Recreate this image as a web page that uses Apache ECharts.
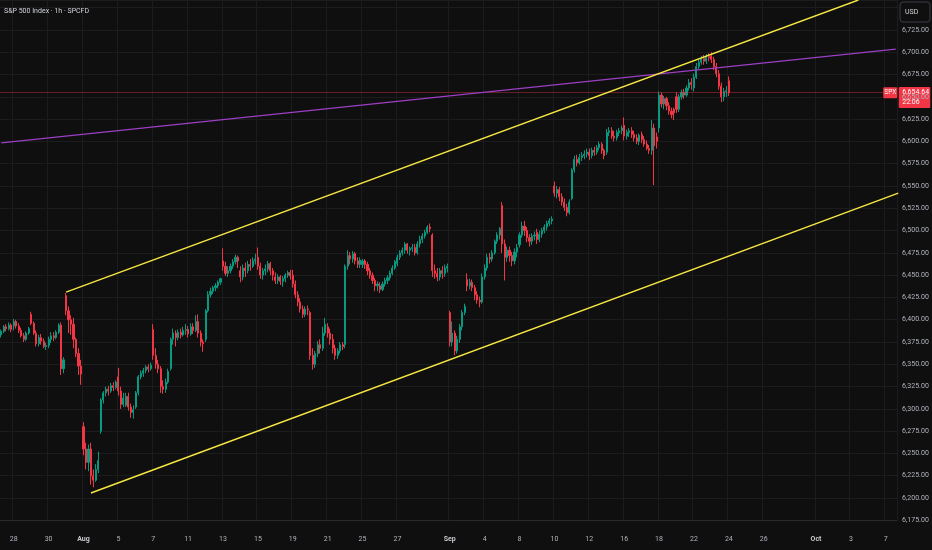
<!DOCTYPE html>
<html><head><meta charset="utf-8">
<script src="https://cdn.jsdelivr.net/npm/echarts@6/dist/echarts.min.js"></script>
<style>html,body{margin:0;padding:0;background:#0f0f0f;}#c{width:932px;height:550px;}</style>
</head><body><div id="c"></div>
<script>
// ---- data ----
const tradingDays = [
  '2025-07-25','2025-07-28','2025-07-29','2025-07-30','2025-07-31','2025-08-01',
  '2025-08-04','2025-08-05','2025-08-06','2025-08-07','2025-08-08',
  '2025-08-11','2025-08-12','2025-08-13','2025-08-14','2025-08-15',
  '2025-08-18','2025-08-19','2025-08-20','2025-08-21','2025-08-22',
  '2025-08-25','2025-08-26','2025-08-27','2025-08-28','2025-08-29',
  '2025-09-02','2025-09-03','2025-09-04','2025-09-05',
  '2025-09-08','2025-09-09','2025-09-10','2025-09-11','2025-09-12',
  '2025-09-15','2025-09-16','2025-09-17','2025-09-18','2025-09-19',
  '2025-09-22','2025-09-23','2025-09-24','2025-09-25','2025-09-26',
  '2025-09-29','2025-09-30','2025-10-01','2025-10-02','2025-10-03',
  '2025-10-06','2025-10-07','2025-10-08'
];
const sessionHours = ['09:30','10:30','11:30','12:30','13:30','14:30','15:30'];
const dayLabels = {
  '07-28':'28','07-30':'30','08-01':'Aug','08-05':'5','08-07':'7','08-11':'11','08-13':'13',
  '08-15':'15','08-19':'19','08-21':'21','08-25':'25','08-27':'27','09-02':'Sep','09-04':'4',
  '09-08':'8','09-10':'10','09-12':'12','09-16':'16','09-18':'18','09-22':'22','09-24':'24',
  '09-26':'26','10-01':'Oct','10-03':'3','10-07':'7'
};
const monthLabels = ['Aug','Sep','Oct'];
// [open, close, low, high] per 1h bar, from Jul 25 11:30
const ohlc = [
  [6383,6387,6380,6389],[6387,6392,6385,6394],[6392,6390,6387,6395],[6390,6394,6388,6397],[6394,6389,6386,6396],
  [6393,6398,6388,6401],[6398,6393,6390,6400],[6393,6388,6385,6396],[6388,6382,6380,6391],[6382,6378,6375,6385],[6378,6385,6376,6387],[6385,6390,6383,6392],
  [6406,6396,6394,6409],[6396,6385,6383,6398],[6385,6373,6370,6388],[6373,6380,6370,6383],[6380,6376,6372,6384],[6376,6370,6368,6379],[6370,6371,6366,6374],
  [6371,6378,6368,6381],[6378,6382,6374,6386],[6382,6380,6376,6386],[6380,6386,6378,6388],[6386,6394,6384,6396],[6394,6345,6338,6397],[6345,6355,6340,6358],
  [6427,6410,6405,6430],[6410,6400,6385,6415],[6400,6395,6383,6405],[6395,6378,6368,6402],[6378,6362,6358,6380],[6362,6348,6338,6368],[6348,6339,6327,6355],
  [6280,6255,6248,6285],[6255,6240,6232,6262],[6240,6255,6230,6260],[6255,6225,6215,6262],[6225,6220,6212,6232],[6220,6232,6218,6238],[6232,6242,6228,6252],
  [6275,6310,6272,6312],[6310,6318,6306,6320],[6318,6322,6314,6325],[6322,6320,6315,6326],[6320,6326,6318,6329],[6326,6324,6320,6330],[6324,6330,6322,6332],
  [6336,6320,6315,6346],[6320,6305,6300,6325],[6305,6312,6302,6318],[6304,6314,6302,6318],[6314,6302,6298,6318],[6302,6296,6290,6306],[6296,6299,6289,6304],
  [6302,6318,6300,6320],[6318,6336,6315,6338],[6336,6340,6333,6343],[6340,6343,6336,6346],[6343,6347,6340,6349],[6347,6345,6341,6350],[6345,6349,6343,6352],
  [6389,6360,6355,6395],[6360,6350,6345,6368],[6350,6345,6340,6355],[6345,6325,6318,6348],[6325,6322,6317,6332],[6322,6330,6318,6334],[6330,6342,6328,6345],
  [6345,6378,6343,6380],[6378,6385,6372,6390],[6385,6380,6370,6388],[6380,6386,6377,6389],[6386,6383,6379,6390],[6383,6388,6381,6392],[6388,6389,6383,6395],
  [6389,6384,6380,6393],[6384,6392,6382,6396],[6392,6388,6384,6396],[6388,6398,6386,6405],[6398,6385,6380,6406],[6385,6375,6370,6388],[6375,6373,6364,6378],
  [6378,6410,6375,6412],[6410,6428,6408,6432],[6428,6432,6425,6436],[6432,6436,6429,6438],[6436,6438,6432,6441],[6438,6442,6435,6444],[6442,6446,6439,6447],
  [6466,6460,6455,6480],[6460,6452,6449,6465],[6452,6455,6448,6460],[6455,6460,6452,6463],[6460,6465,6457,6468],[6465,6470,6462,6473],[6470,6466,6458,6472],
  [6455,6448,6442,6460],[6448,6458,6444,6462],[6458,6455,6448,6464],[6455,6462,6452,6466],[6462,6460,6455,6468],[6460,6466,6458,6470],[6466,6468,6462,6474],
  [6470,6460,6456,6481],[6460,6450,6446,6464],[6450,6455,6445,6458],[6455,6457,6450,6462],[6457,6463,6453,6466],[6463,6455,6450,6465],[6455,6450,6444,6458],
  [6448,6444,6440,6453],[6444,6448,6440,6451],[6448,6443,6439,6450],[6443,6446,6437,6449],[6446,6450,6442,6452],[6450,6453,6447,6455],[6453,6449,6445,6456],
  [6450,6440,6436,6456],[6440,6428,6424,6444],[6428,6420,6415,6432],[6420,6412,6408,6424],[6412,6406,6402,6416],[6406,6412,6403,6415],[6412,6411,6405,6416],
  [6408,6360,6355,6410],[6360,6350,6344,6368],[6350,6362,6346,6365],[6362,6372,6358,6376],[6372,6368,6362,6378],[6368,6385,6365,6392],[6385,6395,6382,6402],
  [6392,6385,6380,6396],[6385,6378,6372,6390],[6378,6368,6362,6384],[6368,6360,6355,6372],[6360,6365,6356,6368],[6365,6372,6362,6375],[6372,6370,6366,6375],
  [6372,6460,6368,6462],[6460,6472,6456,6478],[6472,6468,6462,6476],[6468,6474,6464,6477],[6474,6466,6462,6476],[6466,6462,6458,6470],[6462,6467,6458,6470],
  [6462,6466,6458,6468],[6466,6462,6457,6468],[6462,6455,6450,6465],[6455,6450,6446,6458],[6450,6444,6440,6453],[6444,6438,6432,6447],[6438,6440,6432,6443],
  [6438,6434,6430,6442],[6434,6440,6432,6443],[6440,6444,6437,6447],[6444,6447,6440,6450],[6447,6452,6444,6455],[6452,6458,6450,6461],[6458,6465,6456,6467],
  [6463,6470,6460,6473],[6470,6475,6467,6478],[6475,6478,6472,6481],[6478,6485,6474,6487],[6485,6478,6474,6486],[6478,6480,6472,6482],[6480,6481,6476,6485],
  [6481,6475,6472,6485],[6475,6485,6473,6488],[6485,6490,6481,6494],[6490,6494,6486,6497],[6494,6498,6491,6501],[6498,6504,6496,6506],[6504,6502,6498,6508],
  [6495,6455,6448,6497],[6455,6452,6446,6462],[6452,6448,6443,6458],[6448,6455,6444,6458],[6455,6452,6446,6460],[6452,6458,6448,6462],[6458,6460,6453,6463],
  [6408,6375,6370,6410],[6375,6385,6370,6398],[6385,6365,6360,6388],[6365,6378,6362,6382],[6378,6392,6374,6395],[6392,6408,6388,6411],[6408,6415,6405,6418],
  [6445,6438,6432,6452],[6438,6442,6434,6446],[6442,6436,6432,6445],[6436,6428,6422,6439],[6428,6422,6418,6432],[6422,6420,6414,6426],[6420,6448,6418,6452],
  [6448,6458,6445,6462],[6458,6470,6455,6474],[6470,6468,6463,6475],[6468,6475,6465,6478],[6475,6488,6473,6490],[6488,6495,6485,6498],[6495,6502,6490,6504],
  [6528,6485,6475,6532],[6485,6470,6444,6490],[6470,6478,6465,6482],[6478,6472,6465,6482],[6472,6466,6460,6476],[6466,6476,6462,6480],[6476,6481,6470,6485],
  [6484,6495,6481,6498],[6495,6505,6492,6510],[6505,6500,6494,6511],[6500,6492,6487,6504],[6492,6488,6482,6496],[6488,6494,6484,6497],[6494,6495,6489,6499],
  [6498,6490,6485,6502],[6490,6496,6487,6500],[6496,6500,6492,6503],[6500,6504,6497,6507],[6504,6508,6500,6511],[6508,6511,6505,6514],[6511,6513,6507,6516],
  [6550,6542,6538,6555],[6542,6546,6536,6550],[6546,6538,6533,6549],[6538,6532,6528,6542],[6532,6526,6522,6536],[6526,6520,6516,6530],[6520,6532,6518,6535],
  [6536,6568,6534,6570],[6568,6580,6565,6584],[6580,6576,6572,6585],[6576,6582,6574,6586],[6582,6584,6578,6588],[6584,6586,6580,6590],[6586,6588,6582,6592],
  [6588,6584,6579,6592],[6584,6590,6581,6593],[6590,6588,6584,6594],[6588,6593,6585,6596],[6593,6597,6590,6600],[6597,6590,6586,6599],[6590,6584,6580,6592],
  [6588,6610,6585,6614],[6610,6612,6606,6616],[6612,6606,6603,6616],[6606,6604,6600,6612],[6604,6610,6601,6613],[6610,6612,6606,6615],[6612,6615,6608,6618],
  [6618,6606,6601,6627],[6606,6610,6602,6613],[6610,6612,6605,6615],[6612,6608,6604,6616],[6608,6604,6600,6612],[6604,6600,6597,6608],[6600,6607,6596,6609],
  [6608,6602,6598,6611],[6602,6597,6594,6606],[6597,6592,6590,6601],[6592,6590,6586,6596],[6590,6615,6585,6624],[6615,6595,6551,6620],[6605,6600,6592,6610],
  [6615,6652,6610,6656],[6652,6642,6638,6655],[6642,6648,6636,6651],[6648,6640,6635,6650],[6640,6634,6630,6644],[6634,6630,6626,6638],[6636,6632,6624,6638],
  [6650,6636,6632,6655],[6636,6650,6633,6653],[6650,6655,6647,6658],[6655,6652,6648,6659],[6652,6660,6650,6663],[6660,6666,6657,6670],[6666,6664,6658,6671],
  [6660,6672,6656,6676],[6672,6684,6670,6688],[6684,6689,6681,6692],[6689,6693,6686,6696],[6693,6690,6686,6697],[6690,6695,6687,6698],[6695,6694,6690,6699],
  [6696,6692,6688,6700],[6692,6684,6680,6695],[6684,6676,6672,6688],[6676,6662,6658,6680],[6662,6650,6644,6666],[6650,6656,6645,6660],[6656,6657,6650,6662],
  [6668,6654.64,6651,6673]
];
// drawn lines: [bar index, price]
const upperChannel = [[26, 6431], [343.6, 6758.6]];
const lowerChannel = [[36, 6205.6], [359.5, 6542]];
const purpleLine = [[0, 6598.4], [359, 6703.5]];
const lastPrice = 6654.64;
const countdown = '22:06';
const symbolName = 'SPX';
const currency = 'USD';
const titleText = 'S&P 500 Index · 1h · SPCFD';
const yMin = 6175, yMax = 6758.65, yStep = 25, yLabelTop = 6725;

// ---- layout ----
const firstBarOffset = 2, categoryCount = 360;
const categories = [];
tradingDays.forEach(d => sessionHours.forEach(h => categories.push(d + ' ' + h)));
const xCats = categories.slice(firstBarOffset, firstBarOffset + categoryCount);

function labelOf(v) {
  const parts = v.split(' ');
  if (parts[1] !== '09:30') return null;
  const k = parts[0].slice(5);
  return dayLabels[k] === undefined ? null : dayLabels[k];
}
const FONT = 'Roboto, "Noto Sans", sans-serif';
const TXT = '#b2b5be';
const GRID = '#1c1c1e';

const chart = echarts.init(document.getElementById('c'));
chart.setOption({
  animation: false,
  backgroundColor: '#0f0f0f',
  textStyle: { fontFamily: FONT },
  grid: { left: 0, right: 35, top: 0, bottom: 29.7 },
  xAxis: {
    type: 'category', data: xCats, boundaryGap: true,
    axisLine: { show: true, lineStyle: { color: '#2a2a2e' } },
    axisTick: { show: false },
    axisLabel: {
      interval: (i, v) => labelOf(v) !== null,
      formatter: v => { const l = labelOf(v); if (l === null) return ''; return monthLabels.indexOf(l) >= 0 ? '{m|' + l + '}' : l; },
      color: TXT, fontSize: 7, margin: 15, fontFamily: FONT,
      rich: { m: { fontWeight: 'bold', color: '#c8cad1', fontSize: 7, fontFamily: FONT } }
    },
    splitLine: { show: true, interval: (i, v) => labelOf(v) !== null, lineStyle: { color: GRID, width: 1 } }
  },
  yAxis: {
    type: 'value', position: 'right', min: yMin, max: yMax, interval: yStep, scale: true,
    axisLine: { show: false }, axisTick: { show: false },
    axisLabel: {
      color: TXT, fontSize: 7, margin: 5, fontFamily: FONT, showMaxLabel: false,
      formatter: v => (Math.abs(v % yStep) < 1e-6 && v <= yLabelTop) ? v.toLocaleString('en-US', { minimumFractionDigits: 2, maximumFractionDigits: 2 }) : ''
    },
    splitLine: { show: true, lineStyle: { color: GRID, width: 1 } }
  },
  series: [
    {
      type: 'candlestick', data: ohlc, barWidth: 1.6, z: 2,
      itemStyle: { color: '#089981', color0: '#f23645', borderColor: '#089981', borderColor0: '#f23645', borderWidth: 1 },
      markLine: {
        silent: true, symbol: ['none', 'none'], label: { show: false },
        lineStyle: { color: 'rgba(242,54,69,0.38)', width: 1, type: 'solid' },
        data: [{ yAxis: lastPrice }]
      }
    },
    { type: 'line', data: purpleLine, symbol: 'none', silent: true, z: 5,
      lineStyle: { color: '#9c3fc4', width: 1.4 } },
    { type: 'line', data: upperChannel, symbol: 'none', silent: true, z: 6,
      lineStyle: { color: '#f5e642', width: 1.5 } },
    { type: 'line', data: lowerChannel, symbol: 'none', silent: true, z: 6,
      lineStyle: { color: '#f5e642', width: 1.5 } }
  ]
});

const py = chart.convertToPixel({ yAxisIndex: 0 }, lastPrice);
const axisX = chart.convertToPixel({ xAxisIndex: 0 }, xCats.length - 1) + 1.5;
chart.setOption({
  graphic: [
    { type: 'text', left: 4, top: 8, style: { text: titleText, fill: '#d1d4dc', font: '7px ' + FONT } },
    { type: 'rect', shape: { x: 900, y: 2, width: 30, height: 20, r: 3 }, style: { fill: '#0f0f0f', stroke: '#3b3e46', lineWidth: 1 } },
    { type: 'text', x: 905, y: 12, style: { text: currency, fill: '#d1d4dc', font: '7px ' + FONT, textVerticalAlign: 'middle' } },
    { type: 'rect', shape: { x: axisX - 14, y: py - 5.5, width: 14, height: 11, r: 1 }, style: { fill: '#f23645' } },
    { type: 'text', x: axisX - 7, y: py, style: { text: symbolName, fill: '#ffffff', font: '6.5px ' + FONT, textAlign: 'center', textVerticalAlign: 'middle' } },
    { type: 'rect', shape: { x: axisX + 1.5, y: py - 5.7, width: 31.5, height: 21, r: 1 }, style: { fill: '#f23645' } },
    { type: 'text', x: axisX + 5, y: py - 0.5, style: { text: lastPrice.toLocaleString('en-US', { minimumFractionDigits: 2 }), fill: '#ffffff', font: '7px ' + FONT, textVerticalAlign: 'middle' } },
    { type: 'text', x: axisX + 5, y: py + 9.5, style: { text: countdown, fill: '#ffffff', font: '7px ' + FONT, textVerticalAlign: 'middle' } }
  ]
});
</script></body></html>
